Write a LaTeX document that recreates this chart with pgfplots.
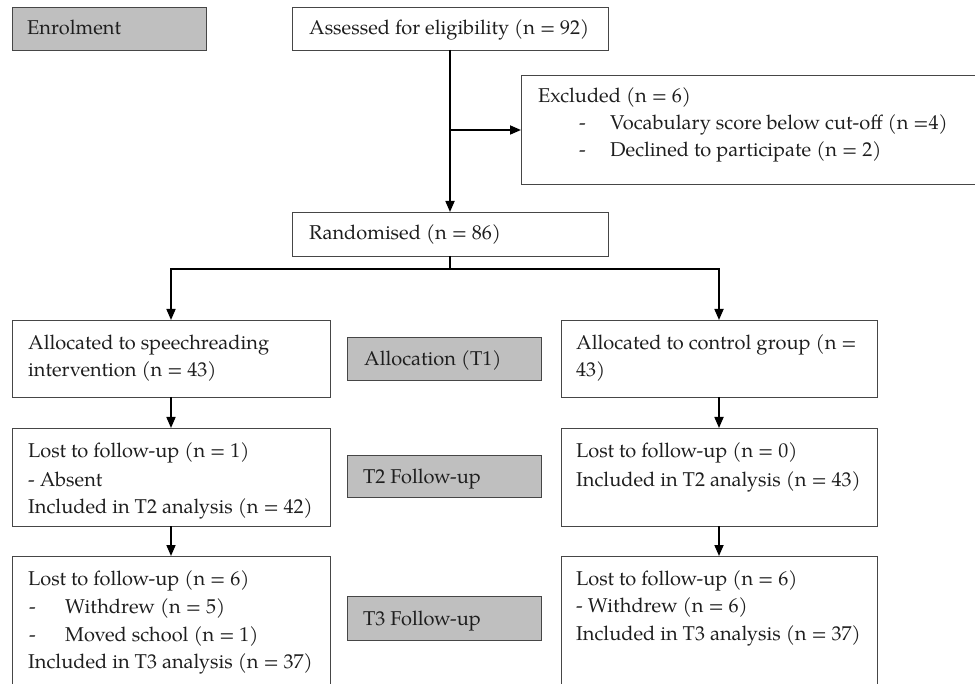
\documentclass[border=0pt]{standalone}
\usepackage{pgfplots}
\pgfplotsset{compat=1.18}
\usetikzlibrary{arrows.meta}
\usepackage{fontspec}
\setmainfont{TeX Gyre Pagella}
\definecolor{boxgray}{RGB}{191,191,191}
\definecolor{edge}{RGB}{70,70,70}
\definecolor{txt}{RGB}{30,30,30}
\begin{document}
\begin{tikzpicture}[
 tx/.style={anchor=base west, inner sep=0pt, text=txt, font=\fontsize{20}{24}\selectfont},
 bx/.style={draw=edge, line width=0.9pt},
 ln/.style={line width=1.7pt, black},
 ar/.style={line width=1.7pt, black, -{Triangle[length=11pt,width=9pt]}}]
\begin{axis}[scale only axis, width=975pt, height=684pt,
  xmin=0, xmax=975, ymin=0, ymax=684, y dir=reverse,
  axis lines=none, clip=false]
% boxes
\draw[bx, fill=boxgray] (12,7) rectangle (206,50);
\draw[bx] (292,7) rectangle (608,50);
\draw[bx] (980,75) -- (521,75) -- (521,184) -- (980,184);
\draw[bx] (292,212) rectangle (608,256);
\draw[bx] (12,320) rectangle (330,397);
\draw[bx, fill=boxgray] (347,337) rectangle (541,380);
\draw[bx] (561,320) rectangle (877,397);
\draw[bx] (12,428) rectangle (330,526);
\draw[bx, fill=boxgray] (347,455) rectangle (541,497);
\draw[bx] (561,428) rectangle (877,526);
\draw[bx] (12,700) -- (12,556) -- (330,556) -- (330,700);
\draw[bx, fill=boxgray] (347,596) rectangle (541,640);
\draw[bx] (561,700) -- (561,556) -- (877,556) -- (877,700);
% arrows
\draw[ar] (450,50) -- (450,212);
\draw[ar] (450,130) -- (521,130);
\draw[ln] (450,256) -- (450,269);
\draw[ln] (171,280) -- (171,269) -- (719,269) -- (719,280);
\draw[ar] (171,269) -- (171,320);
\draw[ar] (719,269) -- (719,320);
\draw[ar] (171,397) -- (171,428);
\draw[ar] (719,397) -- (719,428);
\draw[ar] (171,526) -- (171,556);
\draw[ar] (719,526) -- (719,556);
% texts
\node[tx] at (27,35) {Enrolment};
\node[tx] at (309,35) {Assessed for eligibility (n = 92)};
\node[tx] at (538,103) {Excluded (n = 6)};
\node[tx] at (579,130) {-};
\node[tx] at (610,130) {Vocabulary score below cut-off (n =4)};
\node[tx] at (579,157) {-};
\node[tx] at (610,157) {Declined to participate (n = 2)};
\node[tx] at (309,240) {Randomised (n = 86)};
\node[tx] at (28,350) {Allocated to speechreading};
\node[tx] at (28,377) {intervention (n = 43)};
\node[tx] at (364,366) {Allocation (T1)};
\node[tx] at (576,350) {Allocated to control group (n =};
\node[tx] at (576,377) {43)};
\node[tx] at (28,458) {Lost to follow-up (n = 1)};
\node[tx] at (28,486) {- Absent};
\node[tx] at (28,513) {Included in T2 analysis (n = 42)};
\node[tx] at (363,484) {T2 Follow-up};
\node[tx] at (576,458) {Lost to follow-up (n = 0)};
\node[tx] at (576,486) {Included in T2 analysis (n = 43)};
\node[tx] at (28,585) {Lost to follow-up (n = 6)};
\node[tx] at (29,613) {-};
\node[tx] at (65,613) {Withdrew (n = 5)};
\node[tx] at (29,641) {-};
\node[tx] at (65,641) {Moved school (n = 1)};
\node[tx] at (28,668) {Included in T3 analysis (n = 37)};
\node[tx] at (363,625) {T3 Follow-up};
\node[tx] at (576,585) {Lost to follow-up (n = 6)};
\node[tx] at (576,612) {- Withdrew (n = 6)};
\node[tx] at (576,640) {Included in T3 analysis (n = 37)};
\end{axis}
\pgfresetboundingbox
\useasboundingbox (0,0) rectangle (975pt,684pt);
\end{tikzpicture}
\end{document}
